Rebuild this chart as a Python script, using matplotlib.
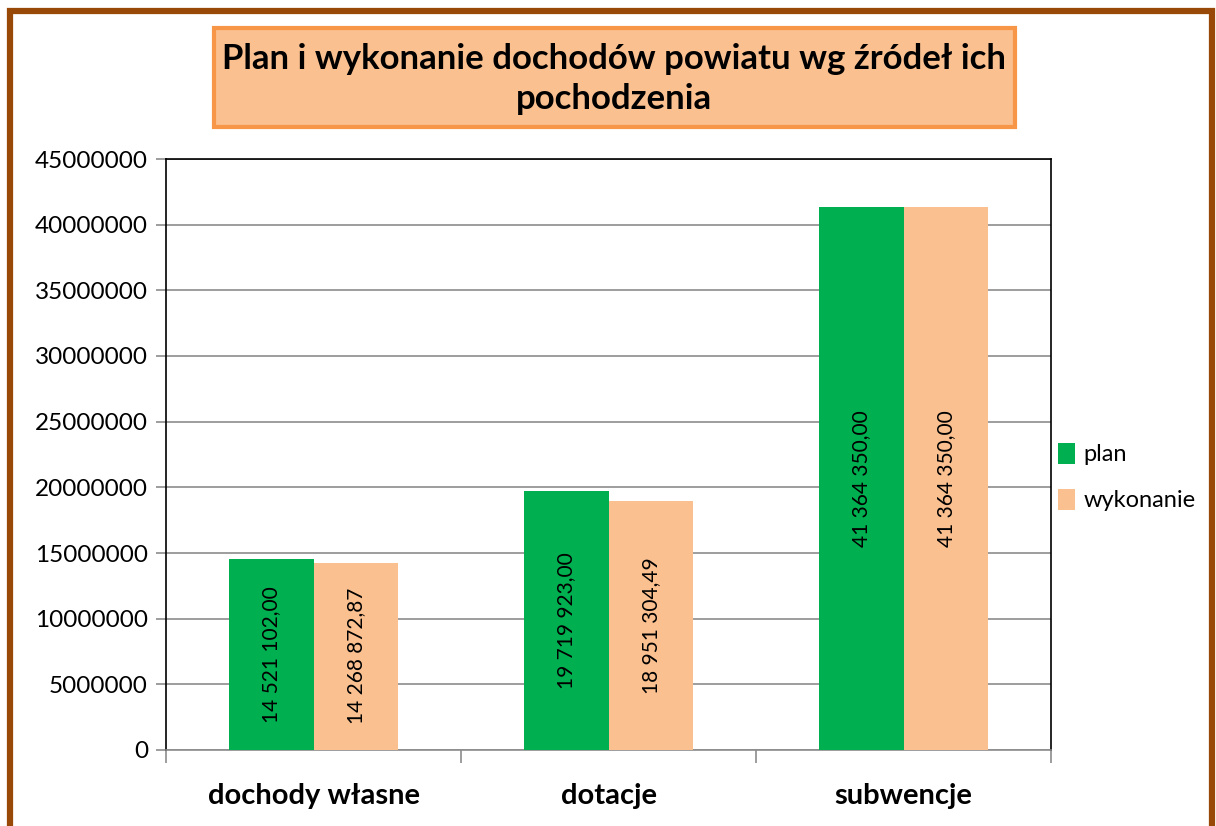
import matplotlib
matplotlib.use("Agg")
import matplotlib.pyplot as plt
from matplotlib.patches import Rectangle
import numpy as np

plt.rcParams['font.family'] = ['Lato', 'DejaVu Sans']

categories = ["dochody własne", "dotacje", "subwencje"]
plan = [14521102.00, 19719923.00, 41364350.00]
wykonanie = [14268872.87, 18951304.49, 41364350.00]
series_names = ["plan", "wykonanie"]
y_ticks = [0, 5000000, 10000000, 15000000, 20000000, 25000000,
           30000000, 35000000, 40000000, 45000000]

green = "#00B050"
peach = "#FAC090"
brown = "#984807"


def fmt(v):
    s = "{:,.2f}".format(v)
    return s.replace(",", " ").replace(".", ",")


fig = plt.figure(figsize=(12.16, 8.26), dpi=100)
W, H = 1216, 826

# brown frame round the chart
fig.patches.append(Rectangle((10 / W, -0.05), 1202 / W, 1.05 - 11 / H,
                             transform=fig.transFigure, fill=False,
                             edgecolor=brown, linewidth=4.5))

# title box
fig.patches.append(Rectangle((214 / W, 1 - 127 / H), 801 / W, 99 / H,
                             transform=fig.transFigure, facecolor=peach,
                             edgecolor="#F79646", linewidth=3))
fig.text(614 / W, 1 - 79 / H,
         "Plan i wykonanie dochodów powiatu wg źródeł ich\npochodzenia",
         ha="center", va="center", fontsize=25, fontweight="bold",
         linespacing=1.3)

ax = fig.add_axes([166 / W, 1 - 750 / H, 885 / W, 591 / H])

x = np.arange(len(categories))
w = 0.288
b1 = ax.bar(x - w / 2, plan, w, color=green, label=series_names[0], zorder=3)
b2 = ax.bar(x + w / 2, wykonanie, w, color=peach, label=series_names[1], zorder=3)

for bars, vals in [(b1, plan), (b2, wykonanie)]:
    for r, v in zip(bars, vals):
        ax.text(r.get_x() + r.get_width() / 2, v / 2, fmt(v), rotation=90,
                ha="center", va="center", fontsize=15, color="black", zorder=4)

ax.set_xlim(-0.5, 2.5)
ax.set_ylim(0, 45000000)
ax.set_yticks(y_ticks)
ax.set_yticklabels([str(t) for t in y_ticks], fontsize=17.5)
ax.yaxis.grid(True, color="#8c8c8c", linewidth=1.2, zorder=0)
ax.set_xticks(x)
ax.set_xticklabels(categories, fontsize=21, fontweight="bold")
ax.set_xticks([-0.5, 0.5, 1.5, 2.5], minor=True)
ax.tick_params(axis="x", which="major", length=0, pad=24)
ax.tick_params(axis="x", which="minor", length=9, color="#8c8c8c", width=1.2)
ax.tick_params(axis="y", length=7, color="#8c8c8c", width=1.2, pad=6)

for side in ["left", "top", "right"]:
    ax.spines[side].set_color("black")
    ax.spines[side].set_linewidth(1.2)
ax.spines["bottom"].set_color("#8c8c8c")
ax.spines["bottom"].set_linewidth(1.2)

fig.legend(handles=[b1, b2], loc="center left",
           bbox_to_anchor=(1049 / W, 1 - 477 / H), frameon=False,
           fontsize=17, handlelength=0.7, handleheight=1.0,
           handletextpad=0.35, labelspacing=1.0, borderaxespad=0)

fig.savefig("out.png", dpi=100)
